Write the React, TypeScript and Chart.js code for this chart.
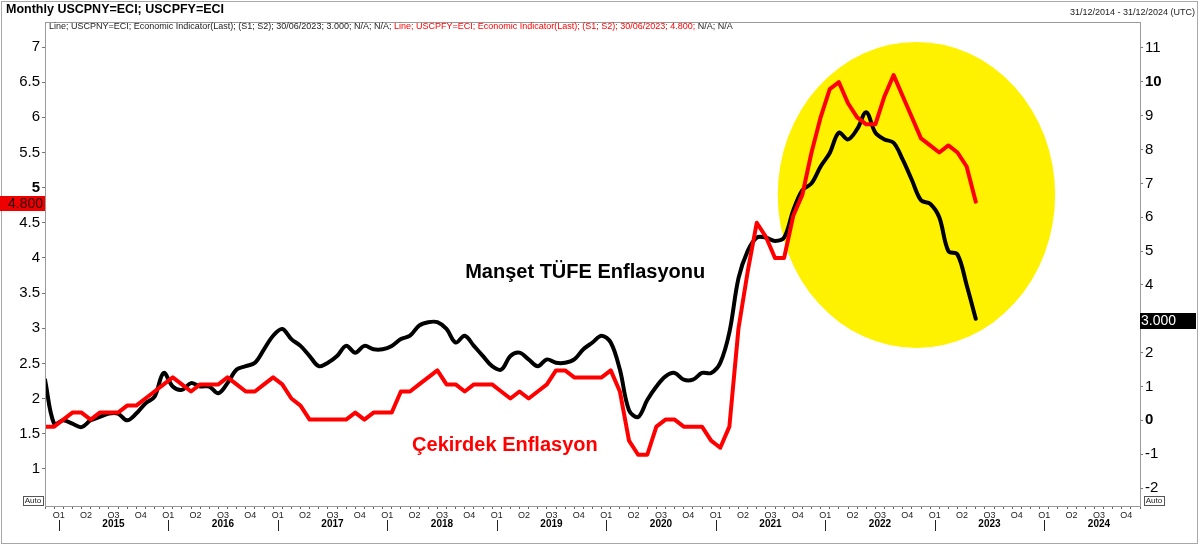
import React, { useEffect, useRef } from 'react';
import { Chart, registerables } from 'chart.js';

Chart.register(...registerables);

const FONT = 'Arial, "Liberation Sans", Helvetica, sans-serif';

// ---- data (monthly, index 0 = 31/12/2014, index 102 = 30/06/2023) ----
const YEARS = ['2015', '2016', '2017', '2018', '2019', '2020', '2021', '2022', '2023', '2024'];
const QUARTERS = ['Q1', 'Q2', 'Q3', 'Q4'];
const LEFT_TICKS = [1, 1.5, 2, 2.5, 3, 3.5, 4, 4.5, 5, 5.5, 6, 6.5, 7];
const RIGHT_TICKS = [-2, -1, 0, 1, 2, 3, 4, 5, 6, 7, 8, 9, 10, 11];
const BOLD_LEFT = [5];
const BOLD_RIGHT = [10, 0];
const LAST_DATE = '30/06/2023';
const RANGE_TEXT = '31/12/2014 - 31/12/2024 (UTC)';
const TITLE = 'Monthly USCPNY=ECI; USCPFY=ECI';

// Headline CPI YoY (black, right axis)
const HEADLINE = [1.2,
  -0.1, 0.0, -0.1, -0.2, 0.0, 0.1, 0.2, 0.2, 0.0, 0.2, 0.5, 0.7,
  1.4, 1.0, 0.9, 1.1, 1.0, 1.0, 0.8, 1.1, 1.5, 1.6, 1.7, 2.1,
  2.5, 2.7, 2.4, 2.2, 1.9, 1.6, 1.7, 1.9, 2.2, 2.0, 2.2, 2.1,
  2.1, 2.2, 2.4, 2.5, 2.8, 2.9, 2.9, 2.7, 2.3, 2.5, 2.2, 1.9,
  1.6, 1.5, 1.9, 2.0, 1.8, 1.6, 1.8, 1.7, 1.7, 1.8, 2.1, 2.3,
  2.5, 2.3, 1.5, 0.3, 0.1, 0.6, 1.0, 1.3, 1.4, 1.2, 1.2, 1.4,
  1.4, 1.7, 2.6, 4.2, 5.0, 5.4, 5.4, 5.3, 5.4, 6.2, 6.8, 7.0,
  7.5, 7.9, 8.5, 8.3, 8.6, 9.1, 8.5, 8.3, 8.2, 7.7, 7.1, 6.5,
  6.4, 6.0, 5.0, 4.9, 4.0, 3.0];

// Core CPI YoY (red, left axis)
const CORE = [1.6,
  1.6, 1.7, 1.8, 1.8, 1.7, 1.8, 1.8, 1.8, 1.9, 1.9, 2.0, 2.1,
  2.2, 2.3, 2.2, 2.1, 2.2, 2.2, 2.2, 2.3, 2.2, 2.1, 2.1, 2.2,
  2.3, 2.2, 2.0, 1.9, 1.7, 1.7, 1.7, 1.7, 1.7, 1.8, 1.7, 1.8,
  1.8, 1.8, 2.1, 2.1, 2.2, 2.3, 2.4, 2.2, 2.2, 2.1, 2.2, 2.2,
  2.2, 2.1, 2.0, 2.1, 2.0, 2.1, 2.2, 2.4, 2.4, 2.3, 2.3, 2.3,
  2.3, 2.4, 2.1, 1.4, 1.2, 1.2, 1.6, 1.7, 1.7, 1.6, 1.6, 1.6,
  1.4, 1.3, 1.6, 3.0, 3.8, 4.5, 4.3, 4.0, 4.0, 4.6, 4.9, 5.5,
  6.0, 6.4, 6.5, 6.2, 6.0, 5.9, 5.9, 6.3, 6.6, 6.3, 6.0, 5.7,
  5.6, 5.5, 5.6, 5.5, 5.3, 4.8];

// annotations (in data units)
const ELLIPSE = { xCenter: 95.5, yCenter: 6.66, xRadius: 15.2, yRadius: 4.52 };
const NOTES = [
  { text: 'Manşet TÜFE Enflasyonu', x: 59.2, y: 4.38, axis: 'y1', color: '#000000' },
  { text: 'Çekirdek Enflasyon', x: 50.4, y: 1.325, axis: 'y', color: '#ff0000' },
];

const X_MAX = YEARS.length * 12;
const X_TICKS: number[] = [];
for (let m = 0; m <= X_MAX; m++) {
  X_TICKS.push(m);
  if ((m - 1) % 3 === 0 && m + 0.5 < X_MAX) X_TICKS.push(m + 0.5);
}

function quarterLabel(v: number): string {
  if (Number.isInteger(v)) return '';
  const q = Math.floor((((v - 1.5) % 12) + 12) % 12 / 3);
  return QUARTERS[q];
}

const decor = {
  id: 'decor',
  beforeDraw(chart: any) {
    const { ctx, width, height } = chart;
    ctx.save();
    ctx.fillStyle = '#ffffff';
    ctx.fillRect(0, 0, width, height);
    ctx.restore();
  },
  beforeDatasetsDraw(chart: any) {
    const { ctx } = chart;
    const xs = chart.scales.x;
    const ys = chart.scales.y1;
    const cx = xs.getPixelForValue(ELLIPSE.xCenter);
    const rx = xs.getPixelForValue(ELLIPSE.xCenter + ELLIPSE.xRadius) - cx;
    const cy = ys.getPixelForValue(ELLIPSE.yCenter);
    const ry = ys.getPixelForValue(ELLIPSE.yCenter - ELLIPSE.yRadius) - cy;
    ctx.save();
    ctx.beginPath();
    ctx.ellipse(cx, cy, rx, ry, 0, 0, Math.PI * 2);
    ctx.fillStyle = '#fff200';
    ctx.fill();
    ctx.restore();
  },
  afterDraw(chart: any) {
    const { ctx, chartArea: a, width, height } = chart;
    const xs = chart.scales.x;
    ctx.save();
    // outer frame
    ctx.strokeStyle = '#a8a8a8';
    ctx.lineWidth = 1;
    ctx.strokeRect(1.5, 1.5, width - 4, height - 6);
    // plot frame
    ctx.strokeStyle = '#9a9a9a';
    ctx.strokeRect(Math.round(a.left) + 0.5, Math.round(a.top) + 0.5, Math.round(a.right - a.left), Math.round(a.bottom - a.top));

    // title
    ctx.fillStyle = '#000';
    ctx.textBaseline = 'middle';
    ctx.textAlign = 'left';
    ctx.font = `bold 12.5px ${FONT}`;
    ctx.fillText(TITLE, 6, 10);
    ctx.font = `9px ${FONT}`;
    ctx.textAlign = 'right';
    ctx.fillStyle = '#222';
    ctx.fillText(RANGE_TEXT, width - 5, 13);

    // legend line
    const lastH = HEADLINE[HEADLINE.length - 1].toFixed(3);
    const lastC = CORE[CORE.length - 1].toFixed(3);
    const segs = [
      { t: `Line; USCPNY=ECI; Economic Indicator(Last); (S1; S2); ${LAST_DATE}; ${lastH}; N/A; N/A; `, c: '#222' },
      { t: `Line; USCPFY=ECI; Economic Indicator(Last); (S1; S2); ${LAST_DATE}; ${lastC}; `, c: '#ff0000' },
      { t: 'N/A; N/A', c: '#222' },
    ];
    ctx.textAlign = 'left';
    ctx.font = `9px ${FONT}`;
    let lx = a.left + 4;
    for (const s of segs) {
      ctx.fillStyle = s.c;
      ctx.fillText(s.t, lx, a.top + 5);
      lx += ctx.measureText(s.t).width;
    }

    // notes
    ctx.font = `bold 20px ${FONT}`;
    ctx.textAlign = 'center';
    for (const n of NOTES) {
      const px = xs.getPixelForValue(n.x);
      const py = chart.scales[n.axis].getPixelForValue(n.y);
      ctx.fillStyle = n.color;
      ctx.fillText(n.text, px, py);
    }

    // year separators
    ctx.strokeStyle = '#222';
    ctx.lineWidth = 1;
    for (let i = 0; i < YEARS.length; i++) {
      const px = Math.round(xs.getPixelForValue(1.5 + 12 * i)) + 0.5;
      ctx.beginPath();
      ctx.moveTo(px, a.bottom + 14);
      ctx.lineTo(px, a.bottom + 25);
      ctx.stroke();
    }

    // last value boxes
    const yL = chart.scales.y.getPixelForValue(CORE[CORE.length - 1]);
    ctx.fillStyle = '#ee0000';
    ctx.fillRect(0, Math.round(yL) - 6, a.left, 15);
    ctx.fillStyle = '#2a0000';
    ctx.font = `14px ${FONT}`;
    ctx.textAlign = 'right';
    ctx.fillText(lastC, a.left - 2, Math.round(yL) + 2);

    const yR = chart.scales.y1.getPixelForValue(HEADLINE[HEADLINE.length - 1]);
    ctx.fillStyle = '#000';
    ctx.fillRect(a.right, Math.round(yR) - 6, 56, 16);
    ctx.fillStyle = '#fff';
    ctx.textAlign = 'left';
    ctx.fillText(lastH, a.right + 1, Math.round(yR) + 2);

    // Auto boxes
    ctx.font = `8px ${FONT}`;
    ctx.textAlign = 'center';
    const autoBox = (x0: number) => {
      ctx.fillStyle = '#222';
      ctx.fillText('Auto', x0 + 10, a.bottom - 5);
      ctx.strokeStyle = '#555';
      ctx.strokeRect(x0 + 0.5, a.bottom - 9.5, 20, 9);
    };
    autoBox(a.left - 22);
    autoBox(a.right + 4);
    ctx.restore();
  },
};

export default function App() {
  const ref = useRef<HTMLCanvasElement | null>(null);
  useEffect(() => {
    if (!ref.current) return;
    const chart = new Chart(ref.current, {
      type: 'line',
      data: {
        datasets: [
          {
            label: 'USCPFY=ECI',
            data: CORE.map((v, i) => ({ x: i, y: v })),
            xAxisID: 'x',
            yAxisID: 'y',
            borderColor: '#ff0000',
            borderWidth: 4,
            pointRadius: 0,
            tension: 0,
            borderJoinStyle: 'round',
            borderCapStyle: 'round',
          },
          {
            label: 'USCPNY=ECI',
            data: HEADLINE.map((v, i) => ({ x: i, y: v })),
            xAxisID: 'x',
            yAxisID: 'y1',
            borderColor: '#000000',
            borderWidth: 4,
            pointRadius: 0,
            tension: 0.35,
            borderJoinStyle: 'round',
            borderCapStyle: 'round',
          },
        ],
      },
      options: {
        animation: false,
        responsive: false,
        devicePixelRatio: 1,
        layout: { padding: { top: 22, left: 0, right: 0, bottom: 4 } },
        plugins: { legend: { display: false }, tooltip: { enabled: false }, title: { display: false } },
        scales: {
          x: {
            type: 'linear',
            position: 'bottom',
            min: 0,
            max: X_MAX,
            afterBuildTicks: (s: any) => { s.ticks = X_TICKS.map((v) => ({ value: v })); },
            afterFit: (s: any) => { s.height = 12; },
            ticks: {
              autoSkip: false, maxRotation: 0, minRotation: 0, padding: 1,
              font: { family: FONT, size: 9 }, color: '#222',
              callback: (v: any) => quarterLabel(Number(v)),
            },
            grid: {
              display: true, drawOnChartArea: false, drawTicks: true, tickLength: 3,
              tickColor: (c: any) => (c.tick && Number.isInteger(c.tick.value) ? '#666' : 'rgba(0,0,0,0)'),
            },
            border: { display: false },
          },
          x2: {
            type: 'linear',
            position: 'bottom',
            min: 0,
            max: X_MAX,
            afterBuildTicks: (s: any) => { s.ticks = YEARS.map((_, i) => ({ value: 7.5 + 12 * i })); },
            afterFit: (s: any) => { s.height = 26; },
            ticks: {
              autoSkip: false, maxRotation: 0, minRotation: 0, padding: 0,
              font: { family: FONT, size: 10, weight: 'bold' }, color: '#000',
              callback: (_v: any, i: number) => YEARS[i],
            },
            grid: { display: false, drawTicks: false },
            border: { display: false },
          },
          y: {
            type: 'linear',
            position: 'left',
            min: 0.471,
            max: 7.356,
            afterBuildTicks: (s: any) => { s.ticks = LEFT_TICKS.map((v) => ({ value: v })); },
            afterFit: (s: any) => { s.width = 45; },
            ticks: {
              padding: 2, color: '#000',
              font: (c: any) => ({ family: FONT, size: 15, weight: c.tick && BOLD_LEFT.includes(c.tick.value) ? 'bold' : 'normal' }),
              callback: (v: any) => String(v),
            },
            grid: { drawOnChartArea: false, drawTicks: true, tickLength: 3, tickColor: '#777' },
            border: { display: false },
          },
          y1: {
            type: 'linear',
            position: 'right',
            min: -2.53,
            max: 11.768,
            afterBuildTicks: (s: any) => { s.ticks = RIGHT_TICKS.map((v) => ({ value: v })); },
            afterFit: (s: any) => { s.width = 60; },
            ticks: {
              padding: 2, color: '#000',
              font: (c: any) => ({ family: FONT, size: 15, weight: c.tick && BOLD_RIGHT.includes(c.tick.value) ? 'bold' : 'normal' }),
              callback: (v: any) => String(v),
            },
            grid: { drawOnChartArea: false, drawTicks: true, tickLength: 3, tickColor: '#777' },
            border: { display: false },
          },
        },
      },
      plugins: [decor],
    } as any);
    return () => chart.destroy();
  }, []);

  return (
    <div style={{ position: 'fixed', left: 0, top: 0, width: 1200, height: 548, background: '#fff' }}>
      <canvas ref={ref} width={1200} height={548} style={{ display: 'block', width: 1200, height: 548 }} />
    </div>
  );
}
